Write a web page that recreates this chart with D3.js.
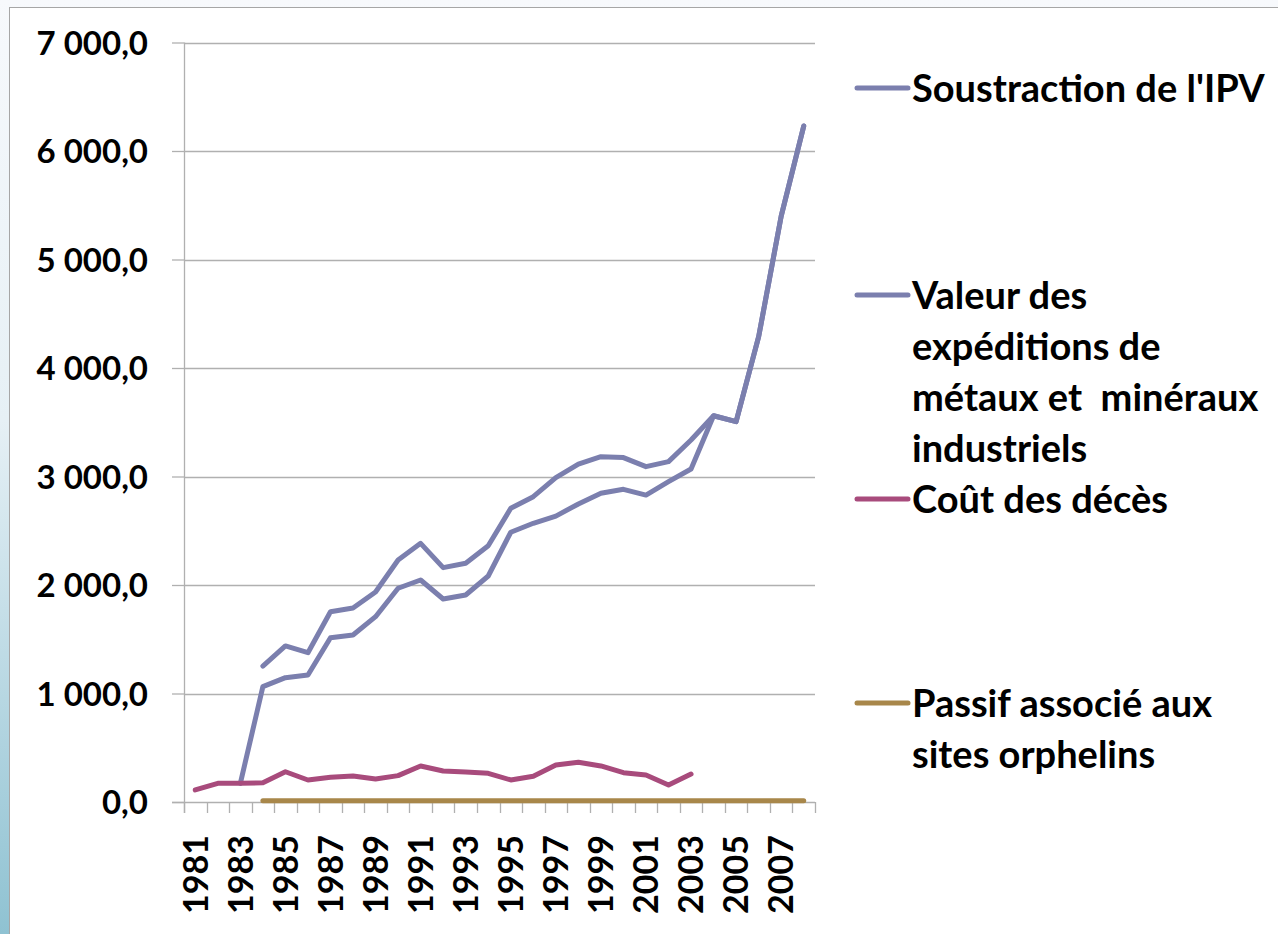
<!DOCTYPE html>
<html>
<head>
<meta charset="utf-8">
<script src="https://cdn.jsdelivr.net/npm/d3@7"></script>
<style>
    html, body { margin: 0; padding: 0; }
    body {
        width: 1278px; height: 934px; overflow: hidden;
        background: linear-gradient(to bottom, #f7f9fc 0%, #e6f0f5 45%, #8fc2d2 100%);
    }
    #chart { position: absolute; left: 0; top: 0; }
    text { font-family: Lato, "Open Sans", sans-serif; font-weight: bold; fill: #000; }
</style>
</head>
<body>
<div id="chart"></div>
<script>
// Données
var years = ["1981","1982","1983","1984","1985","1986","1987","1988","1989","1990","1991","1992","1993","1994",
             "1995","1996","1997","1998","1999","2000","2001","2002","2003","2004","2005","2006","2007","2008"];

// null = pas de valeur
var soustractionIPV = [null, null, 172, 1063, 1146, 1170, 1514, 1539, 1708, 1970, 2046, 1871, 1908, 2083,
                       2486, 2569, 2635, 2747, 2845, 2882, 2829, 2952, 3069, 3560, 3505, 4289, 5400, 6230];
var valeurExpeditions = [null, null, null, 1253, 1438, 1376, 1754, 1788, 1935, 2230, 2384, 2160, 2200, 2362,
                         2707, 2814, 2990, 3115, 3183, 3174, 3091, 3137, 3336, 3560, 3505, 4289, 5400, 6230];
var coutDeces = [111, 172, 172, 178, 279, 203, 228, 240, 212, 243, 332, 286, 276, 264,
                 203, 237, 341, 366, 332, 270, 249, 157, 258, null, null, null, null, null];
var passifSites = [null, null, null, 12, 12, 12, 12, 12, 12, 12, 12, 12, 12, 12,
                   12, 12, 12, 12, 12, 12, 12, 12, 12, 12, 12, 12, 12, 12];

var yTicks = [0, 1000, 2000, 3000, 4000, 5000, 6000, 7000];
var xLabels = years.filter((d, i) => i % 2 === 0);

var seriesNames = [
    ["Soustraction de l'IPV"],
    ["Valeur des", "expéditions de", "métaux et  minéraux", "industriels"],
    ["Coût des décès"],
    ["Passif associé aux", "sites orphelins"]
];
var seriesColors = ["#7b7fae", "#7b7fae", "#a84b7c", "#a8874a"];
var seriesValues = [soustractionIPV, valeurExpeditions, coutDeces, passifSites];
var legendY = [88, 295, 499, 703];

var width = 1278, height = 934;
var plotLeft = 184, plotRight = 815, plotTop = 42.5, plotBottom = 802;

var svg = d3.select("#chart").append("svg")
    .attr("width", width)
    .attr("height", height);

// cadre blanc du graphique
svg.append("rect")
    .attr("x", 9.5).attr("y", 7.5)
    .attr("width", width).attr("height", height)
    .attr("fill", "#fff")
    .attr("stroke", "#a6a6a6");

var x = d3.scaleBand().domain(years).range([plotLeft, plotRight]).padding(0);
var y = d3.scaleLinear().domain([0, 7000]).range([plotBottom, plotTop]);

var locale = d3.formatLocale({ decimal: ",", thousands: "\u00a0", grouping: [3], currency: ["", ""] });
var fmt = locale.format(",.1f");

// lignes de quadrillage
svg.append("g")
    .selectAll("line")
    .data(yTicks.slice(1))
    .join("line")
    .attr("x1", plotLeft).attr("x2", plotRight)
    .attr("y1", d => Math.round(y(d)) + 0.5).attr("y2", d => Math.round(y(d)) + 0.5)
    .attr("stroke", "#b0b0b0")
    .attr("stroke-width", 1.3);

// axe vertical
var yAxis = svg.append("g")
    .attr("transform", `translate(${plotLeft},0)`)
    .call(d3.axisLeft(y).tickValues(yTicks).tickSize(12).tickPadding(24).tickFormat(fmt));
yAxis.select(".domain").attr("stroke", "#b0b0b0").attr("stroke-width", 1.3)
    .attr("d", `M0.5,${plotTop}V${plotBottom + 11}`);
yAxis.selectAll(".tick line").attr("stroke", "#b0b0b0").attr("stroke-width", 1.3);
yAxis.selectAll(".tick text").style("font-size", "33px").attr("dy", "0.36em");

// axe horizontal
svg.append("line")
    .attr("x1", plotLeft - 12).attr("x2", plotRight)
    .attr("y1", plotBottom + 0.5).attr("y2", plotBottom + 0.5)
    .attr("stroke", "#b0b0b0").attr("stroke-width", 1.3);

var edges = years.map(d => x(d)).concat([x.range()[1]]);
svg.append("g")
    .selectAll("line")
    .data(edges)
    .join("line")
    .attr("x1", d => Math.round(d) + 0.5).attr("x2", d => Math.round(d) + 0.5)
    .attr("y1", plotBottom).attr("y2", plotBottom + 11)
    .attr("stroke", "#b0b0b0").attr("stroke-width", 1.3);

svg.append("g")
    .selectAll("text")
    .data(xLabels)
    .join("text")
    .attr("transform", d => `translate(${x(d) + x.bandwidth() / 2},835) rotate(-90)`)
    .attr("text-anchor", "end")
    .attr("dy", "0.36em")
    .style("font-size", "34px")
    .text(d => d);

// séries
var line = d3.line()
    .defined(d => d.v !== null)
    .x(d => x(d.year) + x.bandwidth() / 2)
    .y(d => y(d.v));

seriesValues.forEach((vals, i) => {
    svg.append("path")
        .datum(years.map((yr, j) => ({ year: yr, v: vals[j] })))
        .attr("d", line)
        .attr("fill", "none")
        .attr("stroke", seriesColors[i])
        .attr("stroke-width", 5)
        .attr("stroke-linejoin", "round")
        .attr("stroke-linecap", "round");
});

// légende
var legend = svg.append("g").attr("class", "legend");
seriesNames.forEach((lines, i) => {
    legend.append("line")
        .attr("x1", 857).attr("x2", 908)
        .attr("y1", legendY[i]).attr("y2", legendY[i])
        .attr("stroke", seriesColors[i])
        .attr("stroke-width", 5)
        .attr("stroke-linecap", "round");
    var t = legend.append("text")
        .attr("x", 912)
        .attr("y", legendY[i])
        .style("font-size", "38px")
        .style("white-space", "pre");
    lines.forEach((s, k) => {
        t.append("tspan")
            .attr("x", 912)
            .attr("y", legendY[i] + k * 51)
            .attr("dy", "0.36em")
            .text(s);
    });
});
</script>
</body>
</html>
